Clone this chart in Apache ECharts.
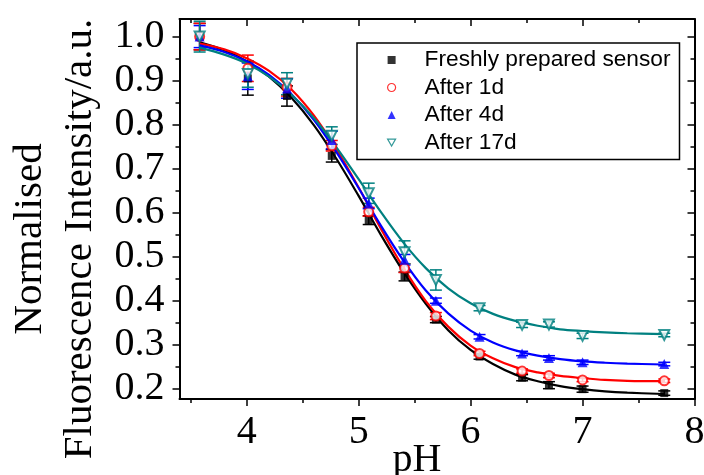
<!DOCTYPE html>
<html>
<head>
<meta charset="utf-8">
<script src="https://cdn.jsdelivr.net/npm/echarts@6/dist/echarts.min.js"></script>
<style>html,body{margin:0;padding:0;background:#fff}#c{width:704px;height:475px}</style>
</head>
<body>
<div id="c"></div>
<script>
// ---- measured data ----
const pH = [3.58, 4.01, 4.36, 4.76, 5.09, 5.41, 5.69, 6.08, 6.46, 6.70, 7.00, 7.73];
const fresh    = [1.0, 0.905, 0.865, 0.729, 0.583, 0.455, 0.357, 0.273, 0.225, 0.208, 0.199, 0.190];
const freshErr = [0.030, 0.038, 0.023, 0.014, 0.010, 0.010, 0.007, 0.006, 0.007, 0.008, 0.007, 0.005];
const day1     = [1.0, 0.928, 0.885, 0.752, 0.602, 0.474, 0.365, 0.280, 0.240, 0.230, 0.220, 0.218];
const day1Err  = [0.030, 0.030, 0.020, 0.012, 0.010, 0.010, 0.008, 0.005, 0.005, 0.005, 0.004, 0.004];
const day4     = [1.0, 0.910, 0.882, 0.765, 0.621, 0.493, 0.400, 0.318, 0.280, 0.270, 0.260, 0.256];
const day4Err  = [0.025, 0.030, 0.022, 0.020, 0.012, 0.012, 0.006, 0.005, 0.005, 0.005, 0.005, 0.004];
const day17    = [1.0, 0.915, 0.893, 0.775, 0.644, 0.510, 0.447, 0.383, 0.345, 0.346, 0.320, 0.322];
const day17Err = [0.035, 0.030, 0.025, 0.020, 0.023, 0.026, 0.023, 0.006, 0.006, 0.006, 0.006, 0.004];

// fitted curves
const curvePH  = [3.58, 3.8, 4.0, 4.2, 4.4, 4.6, 4.8, 5.0, 5.2, 5.4, 5.6, 5.8, 6.0, 6.2, 6.4, 6.6, 6.8, 7.0, 7.2, 7.4, 7.73];
const fitFresh = [0.987, 0.969, 0.944, 0.909, 0.861, 0.799, 0.723, 0.638, 0.549, 0.466, 0.393, 0.333, 0.288, 0.256, 0.232, 0.217, 0.206, 0.199, 0.194, 0.191, 0.188];
const fit1d    = [0.984, 0.971, 0.951, 0.922, 0.880, 0.821, 0.745, 0.657, 0.563, 0.475, 0.399, 0.341, 0.298, 0.269, 0.249, 0.237, 0.229, 0.224, 0.220, 0.218, 0.217];
const fit4d    = [0.980, 0.965, 0.944, 0.913, 0.869, 0.811, 0.738, 0.656, 0.570, 0.491, 0.423, 0.371, 0.332, 0.305, 0.287, 0.275, 0.267, 0.262, 0.259, 0.257, 0.255];
const fit17d   = [0.975, 0.959, 0.939, 0.909, 0.868, 0.815, 0.749, 0.676, 0.601, 0.532, 0.474, 0.428, 0.394, 0.370, 0.354, 0.343, 0.335, 0.331, 0.328, 0.326, 0.324];

const xMajor = [4, 5, 6, 7, 8];
const xMinor = [3.5, 4.5, 5.5, 6.5, 7.5];
const yMajor = [0.2, 0.3, 0.4, 0.5, 0.6, 0.7, 0.8, 0.9, 1.0];
const yMinor = [0.25, 0.35, 0.45, 0.55, 0.65, 0.75, 0.85, 0.95];

const names = ['Freshly prepared sensor', 'After 1d', 'After 4d', 'After 17d'];
const colors = ['#000000', '#ff0000', '#0000ff', '#008080'];

// ---- chart ----
const X_MIN = 3.4, X_MAX = 8, Y_MIN = 0.1766, Y_MAX = 1.04;
const serif = 'Liberation Serif';
const sans = 'Liberation Sans';

function zip2(a, b) { return a.map((v, i) => [v, b[i]]); }
function zip3(a, b, c) { return a.map((v, i) => [v, b[i], c[i]]); }

function errRender(color) {
  return function (params, api) {
    const x = api.value(0), y = api.value(1), e = api.value(2);
    const t = api.coord([x, y + e]);
    const b = api.coord([x, y - e]);
    const w = 6;
    const st = { stroke: color, lineWidth: 1.5 };
    return {
      type: 'group',
      children: [
        { type: 'line', shape: { x1: t[0], y1: t[1], x2: b[0], y2: b[1] }, style: st },
        { type: 'line', shape: { x1: t[0] - w, y1: t[1], x2: t[0] + w, y2: t[1] }, style: st },
        { type: 'line', shape: { x1: b[0] - w, y1: b[1], x2: b[0] + w, y2: b[1] }, style: st }
      ]
    };
  };
}

const lineStyleAxis = { color: '#000', width: 2 };
function xAx(pos, values, len, inside, withLine, extra) {
  return Object.assign({
    type: 'value', position: pos, min: X_MIN, max: X_MAX, gridIndex: 0,
    axisLine: { show: withLine, onZero: false, lineStyle: lineStyleAxis },
    axisTick: { show: true, inside: inside, length: len, customValues: values, lineStyle: { color: '#000', width: 1.5 } },
    axisLabel: { show: false },
    splitLine: { show: false }
  }, extra || {});
}
function yAx(pos, values, len, inside, withLine, extra) {
  return Object.assign({
    type: 'value', position: pos, min: Y_MIN, max: Y_MAX, gridIndex: 0,
    axisLine: { show: withLine, onZero: false, lineStyle: lineStyleAxis },
    axisTick: { show: true, inside: inside, length: len, customValues: values, lineStyle: { color: '#000', width: 1.5 } },
    axisLabel: { show: false },
    splitLine: { show: false }
  }, extra || {});
}

const xAxes = [
  xAx('bottom', xMajor, 7, false, true, {
    axisLabel: { show: true, customValues: xMajor, margin: 13, fontFamily: serif, fontSize: 40, color: '#000',
      showMinLabel: true, showMaxLabel: true, hideOverlap: false,
      formatter: v => String(Math.round(v)) },
    name: 'pH', nameLocation: 'middle', nameGap: 41, nameMoveOverlap: false,
    nameTextStyle: { fontFamily: serif, fontSize: 40, color: '#000', lineHeight: 40, padding: [0, 40, 0, 0] }
  }),
  xAx('bottom', xMinor, 4, false, false),
  xAx('top', xMajor, 7, true, true),
  xAx('top', xMinor, 4, true, false)
];
const yAxes = [
  yAx('left', yMajor, 7, false, true, {
    axisLabel: { show: true, customValues: yMajor, margin: 15, fontFamily: serif, fontSize: 40, color: '#000',
      showMinLabel: true, showMaxLabel: true, hideOverlap: false,
      formatter: v => v.toFixed(1) },
    name: 'Normalised\nFluorescence Intensity/a.u.', nameLocation: 'middle', nameRotate: 90, nameGap: 74, nameMoveOverlap: false,
    nameTextStyle: { fontFamily: serif, fontSize: 41, color: '#000', lineHeight: 50, padding: [0, 60, 0, 0] }
  }),
  yAx('left', yMinor, 4, false, false),
  yAx('right', yMajor, 7, true, true),
  yAx('right', yMinor, 4, true, false)
];

const seriesVals = [fresh, day1, day4, day17];
const seriesErrs = [freshErr, day1Err, day4Err, day17Err];
const fits = [fitFresh, fit1d, fit4d, fit17d];
const symbols = ['rect', 'emptyCircle', 'triangle', 'emptyTriangle'];
const symbolSizes = [8, 9, 10, 10];
const rotates = [0, 0, 0, 180];

const series = [];
for (let i = 0; i < 4; i++) {
  series.push({
    type: 'custom', renderItem: errRender(colors[i]), data: zip3(pH, seriesVals[i], seriesErrs[i]),
    encode: { x: 0, y: 1 }, z: 1, silent: true, clip: false
  });
}
for (let i = 0; i < 4; i++) {
  series.push({
    type: 'line', data: zip2(curvePH, fits[i]), smooth: 0.35, showSymbol: false, symbol: 'none',
    lineStyle: { color: colors[i], width: 2.2 }, z: 2, silent: true
  });
}
for (let i = 0; i < 4; i++) {
  series.push({
    type: 'scatter', name: names[i], data: zip2(pH, seriesVals[i]),
    symbol: symbols[i], symbolSize: symbolSizes[i], symbolRotate: rotates[i],
    itemStyle: (i === 1 || i === 3)
      ? { color: colors[i], borderColor: colors[i], borderWidth: 1.3 }
      : { color: colors[i] },
    z: 3, silent: true
  });
}

const legendData = [
  { name: names[0], icon: 'rect', itemStyle: { color: colors[0] } },
  { name: names[1], icon: 'circle', itemStyle: { color: '#fff', borderColor: colors[1], borderWidth: 1.2 } },
  { name: names[2], icon: 'triangle', itemStyle: { color: colors[2] } },
  { name: names[3], icon: 'path://M0,0 L10,0 L5,8.66 Z', itemStyle: { color: '#fff', borderColor: colors[3], borderWidth: 1.2 } }
];

const chart = echarts.init(document.getElementById('c'), null, { renderer: 'canvas' });
chart.setOption({
  animation: false,
  backgroundColor: '#fff',
  grid: { left: 179.5, right: 9.5, top: 19, bottom: 76, containLabel: false, outerBoundsMode: 'none' },
  xAxis: xAxes,
  yAxis: yAxes,
  legend: {
    data: legendData, orient: 'vertical', left: 357, top: 43,
    padding: [5, 9, 5, 30], itemGap: 3.5, itemWidth: 8, itemHeight: 8,
    borderColor: '#000', borderWidth: 1.5, borderRadius: 0,
    selectedMode: false,
    textStyle: { fontFamily: sans, fontSize: 22.7, color: '#000', lineHeight: 24, padding: [0, 0, 0, 24] }
  },
  series: series
});
</script>
</body>
</html>
